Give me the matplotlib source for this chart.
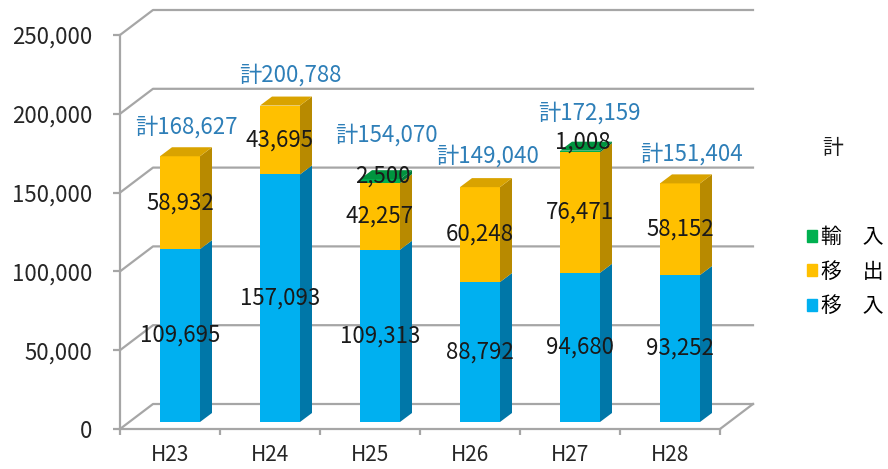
import matplotlib
matplotlib.use("Agg")
import matplotlib.pyplot as plt
from matplotlib.patches import Patch
import numpy as np

plt.rcParams['font.family'] = ['Noto Sans CJK JP', 'DejaVu Sans']

# ---- data ----
categories = ['H23', 'H24', 'H25', 'H26', 'H27', 'H28']
iny = [109695, 157093, 109313, 88792, 94680, 93252]      # 移 入
out = [58932, 43695, 42257, 60248, 76471, 58152]         # 移 出
imp = [0, 0, 2500, 0, 1008, 0]                           # 輸 入
totals = [168627, 200788, 154070, 149040, 172159, 151404]
yticks = [0, 50000, 100000, 150000, 200000, 250000]
series_names = ['移\u3000入', '移\u3000出', '輸\u3000入']

# ---- style ----
W, H = 888, 469
fig = plt.figure(figsize=(W / 100, H / 100), dpi=100)
x0px, x1px, y0px, y1px = 120, 720, 429, 35
ax = fig.add_axes([x0px / W, (H - y0px) / H, (x1px - x0px) / W, (y0px - y1px) / H])
ax.set_xlim(0, 6)
ax.set_ylim(0, 250000)
ypx = 250000 / (y0px - y1px)   # data units per pixel
xpx = 6 / (x1px - x0px)

grid_c = '#A6A6A6'
wall_dx, wall_dy = 33 * xpx, 25 * ypx
bar_sx, bar_sy = 10 * xpx, 7 * ypx
bar_dx, bar_dy = 12 * xpx, 9 * ypx
bar_w = 40 * xpx

front_c = ['#00B0F0', '#FFC000', '#00B050']
side_c = ['#0077A8', '#B88A00', '#007A38']
top_c = ['#0095CC', '#D9A300', '#00943F']
total_c = '#2E7FB8'

# walls / grid
for v in yticks:
    ax.plot([0, wall_dx, 6 + wall_dx], [v, v + wall_dy, v + wall_dy],
            color=grid_c, lw=1.6, clip_on=False, zorder=1)
ax.plot([6, 6 + wall_dx], [0, wall_dy], color=grid_c, lw=1.6, clip_on=False, zorder=1)

# bars
xs = np.arange(6) + 0.5 + bar_sx
series = [iny, out, imp]
bottom = np.zeros(6)
for s, vals in enumerate(series):
    vals = np.array(vals, dtype=float)
    ax.bar(xs, vals, width=bar_w, bottom=bottom + bar_sy, color=front_c[s],
           zorder=3, clip_on=False, linewidth=0)
    for i in range(6):
        if vals[i] <= 0:
            continue
        xr = xs[i] + bar_w / 2
        b = bottom[i] + bar_sy
        t = b + vals[i]
        ax.fill([xr, xr + bar_dx, xr + bar_dx, xr],
                [b, b + bar_dy, t + bar_dy, t], color=side_c[s], lw=0,
                zorder=3, clip_on=False)
    bottom = bottom + vals

# top faces
tops_series = np.zeros(6, dtype=int)
for s, vals in enumerate(series):
    for i in range(6):
        if vals[i] > 0:
            tops_series[i] = s
for i in range(6):
    xr = xs[i] + bar_w / 2
    xl = xs[i] - bar_w / 2
    t = totals[i] + bar_sy
    ax.fill([xl, xr, xr + bar_dx, xl + bar_dx], [t, t, t + bar_dy, t + bar_dy],
            color=top_c[tops_series[i]], lw=0, zorder=3, clip_on=False)

# segment labels
fs = 16
bottom = np.zeros(6)
green_off = [0, 0, 3, 0, 9, 0]
for s, vals in enumerate(series):
    for i in range(6):
        v = vals[i]
        if v <= 0:
            continue
        if s < 2:
            ax.text(xs[i], bottom[i] + bar_sy + v / 2, f'{v:,}', ha='center',
                    va='center', fontsize=fs, color='#1a1a1a', zorder=5)
        else:
            ax.text(xs[i] + 3 * xpx, bottom[i] + bar_sy + v + green_off[i] * ypx,
                    f'{v:,}', ha='center', va='center', fontsize=fs,
                    color='#1a1a1a', zorder=5)
    bottom = bottom + np.array(vals)

# total labels
tot_off = [20, 21, 35, 22, 29, 20]
tot_dx = [0, 4, 0, 2, 3, 6]
for i in range(6):
    ax.text(xs[i] + bar_dx / 2 + tot_dx[i] * xpx,
            totals[i] + bar_sy + bar_dy + tot_off[i] * ypx,
            f'計{totals[i]:,}', ha='center', va='center', fontsize=fs,
            color=total_c, zorder=5)

# axes
for sp in ['top', 'right']:
    ax.spines[sp].set_visible(False)
for sp in ['left', 'bottom']:
    ax.spines[sp].set_color(grid_c)
    ax.spines[sp].set_linewidth(1.6)
ax.set_yticks(yticks)
ax.set_yticklabels([f'{v:,}' for v in yticks], fontsize=fs, color='#262626')
ax.tick_params(axis='y', length=5, width=1.6, color=grid_c, pad=15)
ax.set_xticks(np.arange(7))
ax.set_xticklabels([])
ax.tick_params(axis='x', which='major', length=4, width=1.6, color=grid_c)
ax.set_xticks(np.arange(6) + 0.5, minor=True)
ax.set_xticklabels(categories, minor=True, fontsize=fs - 1, color='#262626')
ax.tick_params(axis='x', which='minor', length=0, pad=11)
ax.set_facecolor('none')

# legend
lfs = 15
handles = [Patch(color=front_c[2]), Patch(color=front_c[1]), Patch(color=front_c[0])]
labels = [series_names[2], series_names[1], series_names[0]]
leg = fig.legend(handles, labels, loc='upper left', frameon=False,
                 bbox_to_anchor=(807 / W, 1 - 226 / H), fontsize=lfs,
                 handlelength=0.5, handleheight=0.5, handletextpad=0.15,
                 labelspacing=0.6, borderpad=0, borderaxespad=0)
fig.text(833 / W, 1 - 148 / H, '計', ha='center', va='center', fontsize=lfs,
         color='#1a1a1a')

fig.savefig('out.png', dpi=100)
